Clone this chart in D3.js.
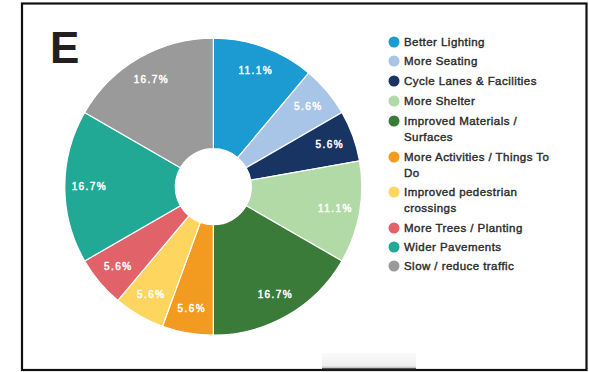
<!DOCTYPE html>
<html>
<head>
<meta charset="utf-8">
<script src="https://cdn.jsdelivr.net/npm/d3@7"></script>
<style>
  html, body { margin: 0; padding: 0; background: #fff; }
  svg { display: block; }
</style>
</head>
<body>
<svg id="chart" width="589" height="372"></svg>
<script>
// Responses by improvement type (counts; shares shown as % of total)
const categories = [
  "Better Lighting",
  "More Seating",
  "Cycle Lanes & Facilities",
  "More Shelter",
  "Improved Materials / Surfaces",
  "More Activities / Things To Do",
  "Improved pedestrian crossings",
  "More Trees / Planting",
  "Wider Pavements",
  "Slow / reduce traffic"
];
const counts = [2, 1, 1, 2, 3, 1, 1, 1, 3, 3];
const colors = [
  "#1b9bd1", "#a8c4e6", "#173463", "#b2daa6", "#3b7b39",
  "#f39a21", "#fdd55f", "#e2626a", "#22a995", "#9a9a9a"
];
// Legend lines (long names wrap onto two lines)
const legendLines = [
  ["Better Lighting"],
  ["More Seating"],
  ["Cycle Lanes & Facilities"],
  ["More Shelter"],
  ["Improved Materials /", "Surfaces"],
  ["More Activities / Things To", "Do"],
  ["Improved pedestrian", "crossings"],
  ["More Trees / Planting"],
  ["Wider Pavements"],
  ["Slow / reduce traffic"]
];
const panelLetter = "E";

const svg = d3.select("#chart");

// Panel frame
svg.append("rect")
  .attr("x", 22).attr("y", 3.5).attr("width", 564.5).attr("height", 366.5)
  .attr("fill", "none").attr("stroke", "#111").attr("stroke-width", 2.2);

// Small tab on the bottom edge
const grad = svg.append("defs").append("linearGradient")
  .attr("id", "tabGrad").attr("x1", 0).attr("y1", 0).attr("x2", 0).attr("y2", 1);
grad.append("stop").attr("offset", "0%").attr("stop-color", "#fafafa");
grad.append("stop").attr("offset", "70%").attr("stop-color", "#f0f0f0");
grad.append("stop").attr("offset", "82%").attr("stop-color", "#c8c4c4");
grad.append("stop").attr("offset", "88%").attr("stop-color", "#222");
grad.append("stop").attr("offset", "100%").attr("stop-color", "#111");
svg.append("rect")
  .attr("x", 322).attr("y", 353).attr("width", 94).attr("height", 18)
  .attr("fill", "url(#tabGrad)");

// Panel letter
svg.append("text")
  .attr("x", 50).attr("y", 63)
  .attr("font-family", "Liberation Sans, Arial, sans-serif")
  .attr("font-weight", "bold")
  .attr("font-size", 44)
  .attr("fill", "#231f20")
  .text(panelLetter);

// Donut
const cx = 213.3, cy = 186.7;
const outerR = 148.5, innerR = 38;
const total = d3.sum(counts);
const data = categories.map((c, i) => ({ name: c, value: counts[i], color: colors[i] }));

const pie = d3.pie().value(d => d.value).sort(null);
const arc = d3.arc().innerRadius(innerR).outerRadius(outerR);
const labelArc = d3.arc().innerRadius(124).outerRadius(124);

const g = svg.append("g").attr("transform", `translate(${cx},${cy})`);
const arcs = pie(data);

g.selectAll("path.slice")
  .data(arcs)
  .join("path")
  .attr("class", "slice")
  .attr("d", arc)
  .attr("fill", d => d.data.color)
  .attr("stroke", "#fff")
  .attr("stroke-width", 1.2);

const fmt = v => (v / total * 100).toFixed(1) + "%";
g.selectAll("text.pct")
  .data(arcs)
  .join("text")
  .attr("class", "pct")
  .attr("transform", d => `translate(${labelArc.centroid(d)})`)
  .attr("text-anchor", "middle")
  .attr("dy", "0.35em")
  .attr("font-family", "Liberation Sans, Arial, sans-serif")
  .attr("font-size", 10)
  .attr("letter-spacing", 1.4)
  .attr("fill", "#fff")
  .attr("stroke", "#fff").attr("stroke-width", 0.45)
  .text(d => fmt(d.data.value));

// Legend
const rowY = [42, 61, 81, 101, 121, 157, 192, 228, 247, 266];
const leg = svg.append("g");
legendLines.forEach((lines, i) => {
  leg.append("circle")
    .attr("cx", 394).attr("cy", rowY[i]).attr("r", 5.5)
    .attr("fill", colors[i]);
  const t = leg.append("text")
    .attr("x", 404).attr("y", rowY[i])
    .attr("font-family", "Liberation Sans, Arial, sans-serif")
    .attr("font-size", 11.5)
    .attr("letter-spacing", 0.45)
    .attr("fill", "#2b2b2b")
    .attr("stroke", "#2b2b2b").attr("stroke-width", 0.4);
  lines.forEach((ln, j) => {
    t.append("tspan")
      .attr("x", 404)
      .attr("y", rowY[i] + j * 15.5)
      .attr("dy", "0.35em")
      .text(ln);
  });
});
</script>
</body>
</html>
